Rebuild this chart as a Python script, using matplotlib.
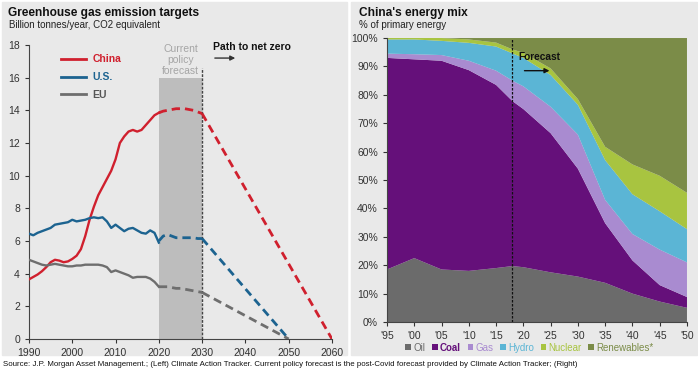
import numpy as np
import matplotlib.pyplot as plt
from matplotlib.patches import Rectangle

plt.rcParams['font.family'] = ['Liberation Sans', 'DejaVu Sans']

# left chart: emissions, billion tonnes/year CO2e
hist_years = [1990, 1991, 1992, 1993, 1994, 1995, 1996, 1997, 1998, 1999, 2000,
              2001, 2002, 2003, 2004, 2005, 2006, 2007, 2008, 2009, 2010,
              2011, 2012, 2013, 2014, 2015, 2016, 2017, 2018, 2019, 2020]
china_hist = [3.65, 3.8, 3.95, 4.15, 4.4, 4.7, 4.85, 4.8, 4.7, 4.75, 4.9,
              5.1, 5.5, 6.3, 7.3, 8.1, 8.8, 9.3, 9.8, 10.3, 11.0,
              12.0, 12.4, 12.7, 12.8, 12.7, 12.8, 13.1, 13.4, 13.7, 13.85]
us_hist = [6.45, 6.35, 6.5, 6.6, 6.7, 6.8, 7.0, 7.05, 7.1, 7.15, 7.3,
           7.2, 7.25, 7.3, 7.4, 7.45, 7.4, 7.45, 7.2, 6.8, 7.0,
           6.8, 6.6, 6.75, 6.8, 6.65, 6.5, 6.45, 6.65, 6.5, 5.9]
eu_hist = [4.85, 4.75, 4.65, 4.55, 4.5, 4.55, 4.6, 4.55, 4.5, 4.45, 4.45,
           4.5, 4.5, 4.55, 4.55, 4.55, 4.55, 4.5, 4.4, 4.1, 4.2,
           4.1, 4.0, 3.9, 3.75, 3.8, 3.8, 3.8, 3.7, 3.5, 3.2]

fc_years = [2020, 2021, 2022, 2023, 2024, 2025, 2026, 2027, 2028, 2029, 2030]
china_fc = [13.85, 13.95, 14.0, 14.05, 14.1, 14.1, 14.1, 14.05, 14.0, 13.9, 13.8]
us_fc = [6.0, 6.3, 6.4, 6.3, 6.2, 6.2, 6.2, 6.2, 6.2, 6.15, 6.15]
eu_fc = [3.2, 3.2, 3.2, 3.15, 3.1, 3.1, 3.05, 3.0, 2.95, 2.9, 2.85]

# path to net zero
china_nz_years, china_nz = [2030, 2060], [13.8, 0]
us_nz_years, us_nz = [2030, 2050], [6.15, 0]
eu_nz_years, eu_nz = [2030, 2050], [2.85, 0]

# right chart: China's energy mix, % of primary energy
mix_years = [1995, 2000, 2005, 2010, 2015, 2018, 2020, 2025, 2030, 2035, 2040, 2045, 2050]
oil = [18.5, 22.5, 18.5, 18, 19, 19.7, 19.3, 17.5, 16, 13.8, 10, 7.2, 5]
coal = [74.5, 70, 73.5, 70.7, 64.5, 58.1, 55.7, 49, 38, 21, 11.7, 5.8, 3.8]
gas = [1.5, 1.8, 2, 3.3, 5, 7.2, 8, 9.3, 12, 8.2, 9.3, 12.5, 12.2]
hydro = [5, 5.2, 5, 6.3, 8.5, 9.6, 10, 11.2, 10.5, 14, 14, 13.5, 11.7]
nuclear = [0.5, 0.5, 1, 1.2, 1.4, 1.4, 1.8, 2.3, 2, 4.7, 10.5, 12.5, 12.8]
renewables = [0, 0, 0, 0.5, 1.6, 4, 5.2, 10.7, 21.5, 38.3, 44.5, 48.5, 54.5]
mix_labels = ['Oil', 'Coal', 'Gas', 'Hydro', 'Nuclear', 'Renewables*']
mix_colors = ['#6b6b6b', '#65107a', '#a98bd0', '#5bb5d5', '#a8c440', '#7b8c48']
mix_ticks = list(range(1995, 2051, 5))
mix_ticklabels = ["'95", "'00", "'05", "'10", "'15", "'20", "'25", "'30", "'35", "'40", "'45", "'50"]

panel = '#e9e9e9'
fig = plt.figure(figsize=(6.98, 3.75), dpi=100)
fig.patch.set_facecolor('white')
fig.patches.append(Rectangle((0.003, 0.053), 0.494, 0.942, transform=fig.transFigure,
                             color=panel, zorder=-1))
fig.patches.append(Rectangle((0.503, 0.053), 0.496, 0.942, transform=fig.transFigure,
                             color=panel, zorder=-1))

# ---------- left ----------
ax = fig.add_axes([0.0415, 0.096, 0.4341, 0.784])
ax.set_facecolor('none')
red, blue, grey = '#d0202e', '#1c6390', '#6e6e6e'

ax.axvspan(2020, 2030, ymin=0, ymax=16/18, color='#bdbdbd', lw=0, zorder=1)
ax.plot([2030, 2030], [0, 16.6], color='#444444', lw=1, ls=(0, (2, 1)), zorder=2)

ax.plot(hist_years, china_hist, color=red, lw=1.7, label='China', zorder=3)
ax.plot(hist_years, us_hist, color=blue, lw=1.7, label='U.S.', zorder=3)
ax.plot(hist_years, eu_hist, color=grey, lw=1.7, label='EU', zorder=3)
dash = (0, (3, 1.8))
for yrs, vals, c in [(fc_years, china_fc, red), (fc_years, us_fc, blue), (fc_years, eu_fc, grey),
                     (china_nz_years, china_nz, red), (us_nz_years, us_nz, blue),
                     (eu_nz_years, eu_nz, grey)]:
    ax.plot(yrs, vals, color=c, lw=2, ls=dash, zorder=3)

ax.set_xlim(1990, 2060)
ax.set_ylim(0, 18)
ax.set_xticks(range(1990, 2061, 10))
ax.set_yticks(range(0, 19, 2))
for s in ['top', 'right']:
    ax.spines[s].set_visible(False)
for s in ['left', 'bottom']:
    ax.spines[s].set_color('#444444')
    ax.spines[s].set_linewidth(0.8)
ax.tick_params(labelsize=7.5, colors='#333333', length=3, width=0.8)

leg = ax.legend(loc='upper left', bbox_to_anchor=(0.075, 1.0), frameon=False,
                handlelength=2.4, handletextpad=0.6, labelspacing=0.75, fontsize=7.5)
for t, c in zip(leg.get_texts(), [red, blue, '#555555']):
    t.set_color(c)
    t.set_fontweight('bold')
for h in leg.legend_handles:
    h.set_linewidth(2)

ax.text(2025, 16.1, 'Current\npolicy\nforecast', ha='center', va='bottom',
        fontsize=7.5, color='#a5a5a5', linespacing=1.1)
ax.text(2032.5, 17.85, 'Path to net zero', ha='left', va='center',
        fontsize=7.5, fontweight='bold', color='#111111')
ax.annotate('', xy=(2038.3, 17.2), xytext=(2032.3, 17.2),
            arrowprops=dict(arrowstyle='-|>', color='#333333', lw=1, mutation_scale=7))

fig.text(0.012, 0.966, 'Greenhouse gas emission targets', fontsize=8.6,
         fontweight='bold', va='center', color='#111111')
fig.text(0.013, 0.932, 'Billion tonnes/year, CO2 equivalent', fontsize=7,
         va='center', color='#222222')

# ---------- right ----------
ax2 = fig.add_axes([0.5544, 0.1413, 0.4298, 0.7573])
ax2.set_facecolor('none')
ax2.stackplot(mix_years, oil, coal, gas, hydro, nuclear, renewables,
              colors=mix_colors, labels=mix_labels, lw=0, zorder=1)
ax2.axvline(2018, color='#111111', lw=0.9, ls=(0, (2, 1.2)), zorder=2)
ax2.set_xlim(1995, 2050)
ax2.set_ylim(0, 100)
ax2.set_yticks(range(0, 101, 10))
ax2.set_yticklabels([f'{v}%' for v in range(0, 101, 10)])
ax2.set_xticks(mix_ticks)
ax2.set_xticklabels(mix_ticklabels)
for s in ['top', 'right']:
    ax2.spines[s].set_visible(False)
for s in ['left', 'bottom']:
    ax2.spines[s].set_color('#444444')
    ax2.spines[s].set_linewidth(0.8)
ax2.tick_params(labelsize=7.5, colors='#333333', length=3, width=0.8)

ax2.text(2019, 93.3, 'Forecast', fontsize=7.3, fontweight='bold', color='#111111',
         va='center')
ax2.annotate('', xy=(2025.3, 88.5), xytext=(2019.7, 88.5),
             arrowprops=dict(arrowstyle='-|>', color='#111111', lw=1, mutation_scale=7))

leg2 = ax2.legend(loc='center', bbox_to_anchor=(0.475, -0.09), ncol=6,
                  frameon=False, fontsize=7, handlelength=0.6, handleheight=0.6,
                  handletextpad=0.2, columnspacing=0.7, borderpad=0, borderaxespad=0)
for t, c in zip(leg2.get_texts(), mix_colors):
    t.set_color(c)
leg2.get_texts()[1].set_fontweight('bold')

fig.text(0.515, 0.966, "China's energy mix", fontsize=8.6, fontweight='bold',
         va='center', color='#111111')
fig.text(0.515, 0.932, '% of primary energy', fontsize=7, va='center', color='#222222')

fig.text(0.004, 0.027, 'Source: J.P. Morgan Asset Management.; (Left) Climate Action Tracker. '
         'Current policy forecast is the post-Covid forecast provided by Climate Action Tracker; (Right)',
         fontsize=5.7, va='center', color='#111111')

fig.savefig('out.png', dpi=100)
